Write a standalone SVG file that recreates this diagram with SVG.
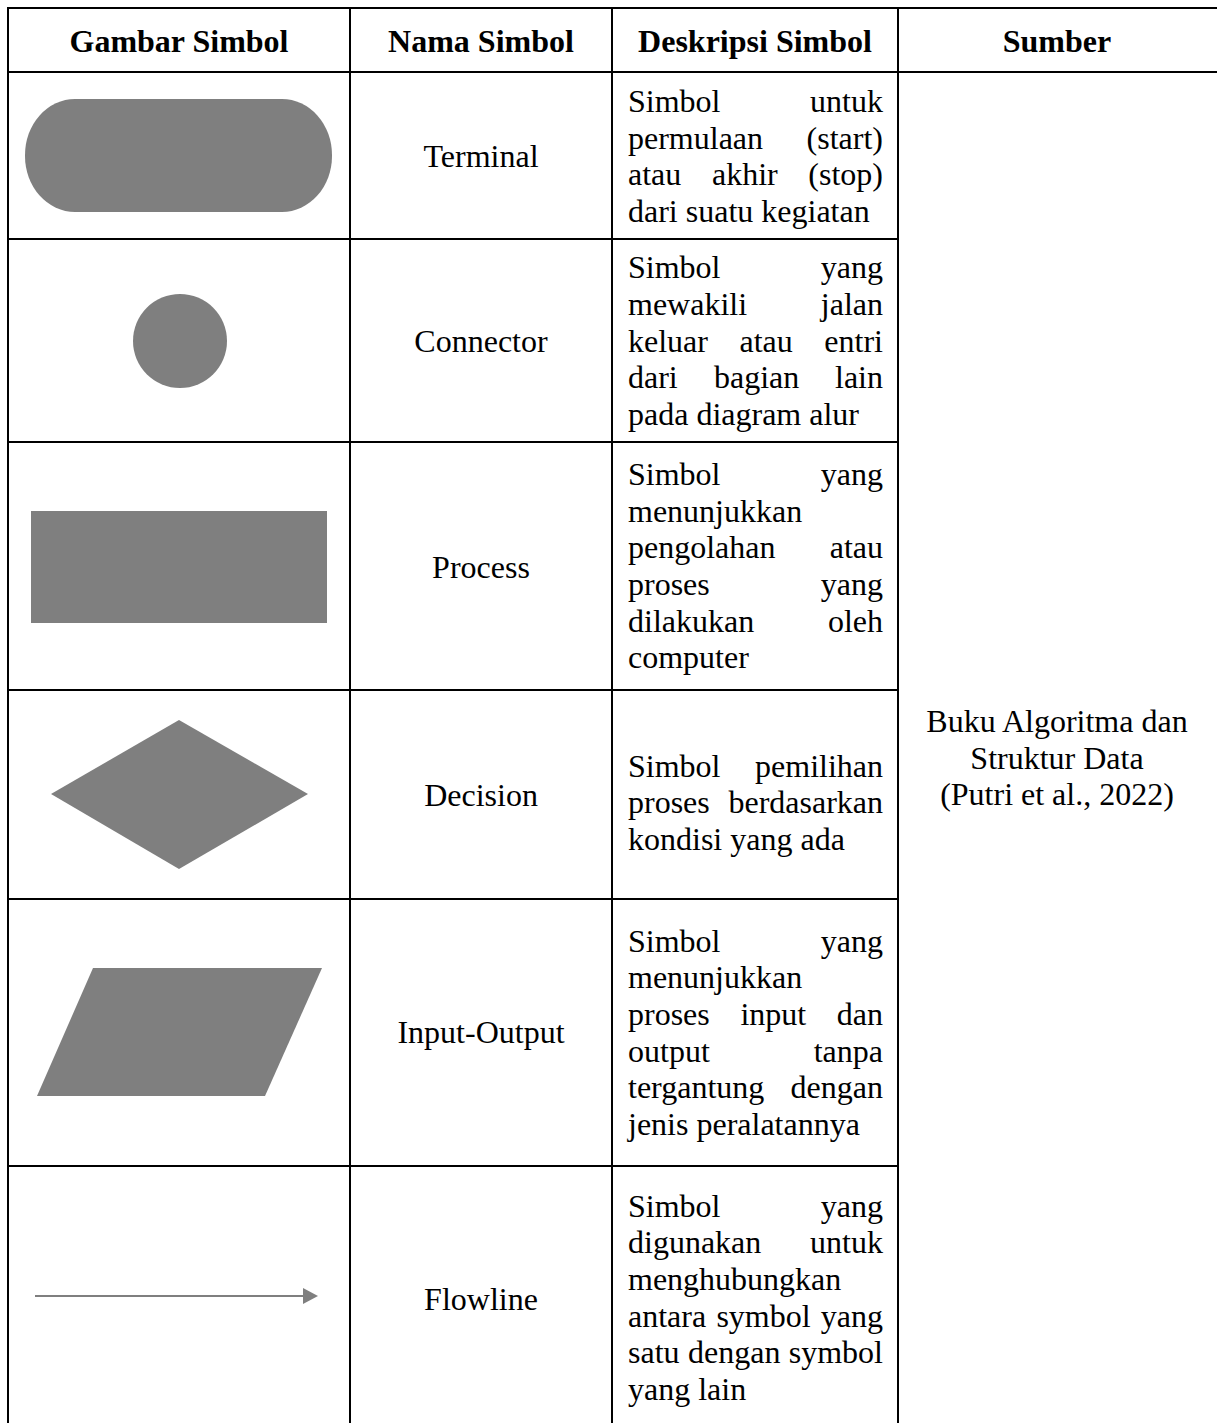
<svg xmlns="http://www.w3.org/2000/svg" width="1217" height="1423" viewBox="0 0 1217 1423">
<style>
text{font-family:"Liberation Serif","Times New Roman",serif;font-size:32px;fill:#000}
.h{font-weight:bold;text-anchor:middle}
.c{text-anchor:middle}
.e{text-anchor:end}
.shape{fill:#7f7f7f}
.grid{stroke:#000;stroke-width:2;fill:none}
</style>
<defs>
<marker id="arrow" markerWidth="16" markerHeight="16" refX="1" refY="8" orient="auto" markerUnits="userSpaceOnUse">
<path d="M1,0 L16,8 L1,16 Z" fill="#7f7f7f"/>
</marker>
</defs>
<rect width="1217" height="1423" fill="#fff"/>
<g id="grid" class="grid">
<path d="M7,8 H1217 M7,72 H1217 M7,239 H899 M7,442 H899 M7,690 H899 M7,899 H899 M7,1166 H899"/>
<path d="M8,7 V1423 M350,7 V1423 M612,7 V1423 M898,7 V1423"/>
</g>
<g id="header">
<text class="h" x="179" y="52">Gambar Simbol</text>
<text class="h" x="481" y="52">Nama Simbol</text>
<text class="h" x="755" y="52">Deskripsi Simbol</text>
<text class="h" x="1057" y="52">Sumber</text>
</g>
<g id="terminal">
<rect class="shape" x="25" y="99" width="307" height="113" rx="50" ry="56"/>
<text class="c" x="481" y="167">Terminal</text>
<text x="628" y="112">Simbol</text><text class="e" x="883" y="112">untuk</text>
<text x="628" y="149">permulaan</text><text class="e" x="883" y="149">(start)</text>
<text x="628" y="185">atau</text><text x="712" y="185">akhir</text><text class="e" x="883" y="185">(stop)</text>
<text x="628" y="222">dari suatu kegiatan</text>
</g>
<g id="connector">
<circle class="shape" cx="180" cy="341" r="47"/>
<text class="c" x="481" y="352">Connector</text>
<text x="628" y="278">Simbol</text><text class="e" x="883" y="278">yang</text>
<text x="628" y="315">mewakili</text><text class="e" x="883" y="315">jalan</text>
<text x="628" y="352">keluar</text><text x="739.5" y="352">atau</text><text class="e" x="883" y="352">entri</text>
<text x="628" y="388">dari</text><text x="714" y="388">bagian</text><text class="e" x="883" y="388">lain</text>
<text x="628" y="425">pada diagram alur</text>
</g>
<g id="process">
<rect class="shape" x="31" y="511" width="296" height="112"/>
<text class="c" x="481" y="578">Process</text>
<text x="628" y="485">Simbol</text><text class="e" x="883" y="485">yang</text>
<text x="628" y="522">menunjukkan</text>
<text x="628" y="558">pengolahan</text><text class="e" x="883" y="558">atau</text>
<text x="628" y="595">proses</text><text class="e" x="883" y="595">yang</text>
<text x="628" y="632">dilakukan</text><text class="e" x="883" y="632">oleh</text>
<text x="628" y="668">computer</text>
</g>
<g id="decision">
<polygon class="shape" points="179,720 308,794 179,869 51,794"/>
<text class="c" x="481" y="806">Decision</text>
<text x="628" y="777">Simbol</text><text class="e" x="883" y="777">pemilihan</text>
<text x="628" y="813">proses</text><text class="e" x="883" y="813">berdasarkan</text>
<text x="628" y="850">kondisi yang ada</text>
</g>
<g id="input-output">
<polygon class="shape" points="93,968 322,968 265,1096 37,1096"/>
<text class="c" x="481" y="1043">Input-Output</text>
<text x="628" y="952">Simbol</text><text class="e" x="883" y="952">yang</text>
<text x="628" y="988">menunjukkan</text>
<text x="628" y="1025">proses</text><text x="740.4" y="1025">input</text><text class="e" x="883" y="1025">dan</text>
<text x="628" y="1062">output</text><text class="e" x="883" y="1062">tanpa</text>
<text x="628" y="1098">tergantung</text><text class="e" x="883" y="1098">dengan</text>
<text x="628" y="1135">jenis peralatannya</text>
</g>
<g id="flowline">
<line x1="35" y1="1296" x2="303" y2="1296" stroke="#7f7f7f" stroke-width="2" marker-end="url(#arrow)"/>
<text class="c" x="481" y="1310">Flowline</text>
<text x="628" y="1217">Simbol</text><text class="e" x="883" y="1217">yang</text>
<text x="628" y="1253">digunakan</text><text class="e" x="883" y="1253">untuk</text>
<text x="628" y="1290">menghubungkan</text>
<text x="628" y="1327">antara</text><text x="716.4" y="1327">symbol</text><text class="e" x="883" y="1327">yang</text>
<text x="628" y="1363">satu</text><text x="688" y="1363">dengan</text><text class="e" x="883" y="1363">symbol</text>
<text x="628" y="1400">yang lain</text>
</g>
<g id="sumber">
<text class="c" x="1057" y="732">Buku Algoritma dan</text>
<text class="c" x="1057" y="769">Struktur Data</text>
<text class="c" x="1057" y="805">(Putri et al., 2022)</text>
</g>
</svg>
